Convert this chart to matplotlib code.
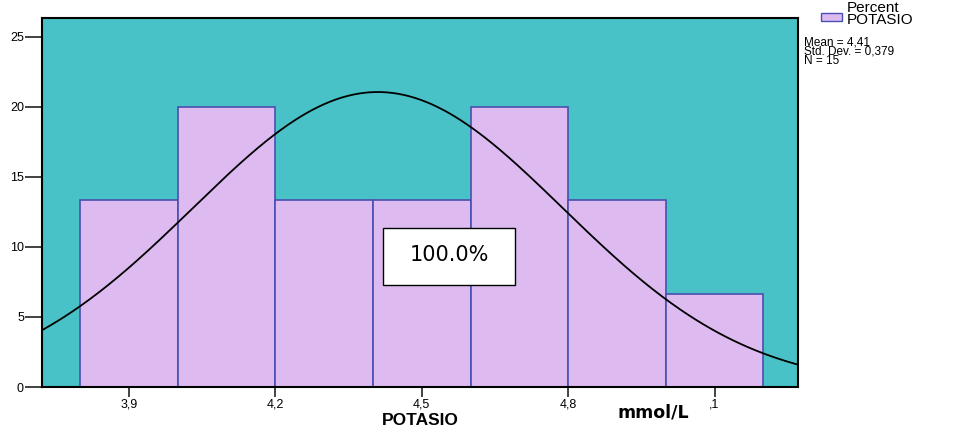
import numpy as np
import matplotlib.pyplot as plt
from matplotlib.patches import Rectangle

# Potassium histogram (percent of cases per 0.2 mmol/L bin)
bin_edges = [3.8, 4.0, 4.2, 4.4, 4.6, 4.8, 5.0, 5.2]
counts = [2, 3, 2, 2, 3, 2, 1]
n_cases = 15
mean_k = 4.41
sd_k = 0.379
x_ticks = [3.9, 4.2, 4.5, 4.8, 5.1]
x_tick_labels = ['3,9', '4,2', '4,5', '4,8', ',1']
y_ticks = [0, 5, 10, 15, 20, 25]

percents = [100.0 * c / n_cases for c in counts]

plt.rcParams['font.family'] = ['Liberation Sans', 'DejaVu Sans']

fig = plt.figure(figsize=(9.54, 4.30), dpi=100)
ax = fig.add_axes([0.044, 0.1, 0.7925, 0.857])
ax.set_facecolor('#48c2c6')

widths = np.diff(bin_edges)
ax.bar(bin_edges[:-1], percents, width=widths, align='edge',
       color='#ddbbf1', edgecolor='#4a4fb0', linewidth=1.2, zorder=2)

# fitted normal curve, scaled to percent per bin width
x0, x1 = 3.722, 5.271
xs = np.linspace(x0, x1, 400)
bw = widths[0]
ys = 100.0 * bw / (sd_k * np.sqrt(2 * np.pi)) * np.exp(-0.5 * ((xs - mean_k) / sd_k) ** 2)
ax.plot(xs, ys, color='black', linewidth=1.3, zorder=3)

ax.set_xlim(x0, x1)
ax.set_ylim(0, 26.3)
ax.set_xticks(x_ticks)
ax.set_xticklabels(x_tick_labels)
ax.set_yticks(y_ticks)
ax.tick_params(axis='x', labelsize=9, length=7, width=1.2, pad=1.5, color='#222222')
ax.tick_params(axis='y', labelsize=9, length=12, width=1.2, pad=1, color='#222222')
for s in ax.spines.values():
    s.set_linewidth(1.5)
    s.set_color('black')

# label box in the middle of the plot
ax.add_patch(Rectangle((4.421, 7.25), 0.27, 4.1, facecolor='white',
                       edgecolor='black', linewidth=1, zorder=4))
ax.text(4.556, 9.45, '100.0%', ha='center', va='center', fontsize=15,
        family=['Liberation Sans Narrow', 'DejaVu Sans'], zorder=5)

fig.text(0.441, 0.0116, 'POTASIO', ha='center', va='baseline', fontsize=12.5, fontweight='bold')
fig.text(0.685, 0.028, 'mmol/L', ha='center', va='baseline', fontsize=12.5, fontweight='bold',
         family=['Liberation Sans Narrow', 'DejaVu Sans'])

# legend and summary statistics
fig.patches.append(Rectangle((0.8605, 0.9512), 0.022, 0.0186, transform=fig.transFigure,
                             facecolor='#ddbbf1', edgecolor='#4a4fb0', linewidth=1))
fig.text(0.888, 0.997, 'Percent\nPOTASIO', ha='left', va='top', fontsize=11, linespacing=0.78)
stats_text = 'Mean = %s\nStd. Dev. = %s\nN = %d' % (str(mean_k).replace('.', ','),
                                                    str(sd_k).replace('.', ','), n_cases)
fig.text(0.843, 0.915, stats_text, ha='left', va='top', fontsize=8.5, linespacing=0.7)

fig.savefig('out.png', dpi=100)
